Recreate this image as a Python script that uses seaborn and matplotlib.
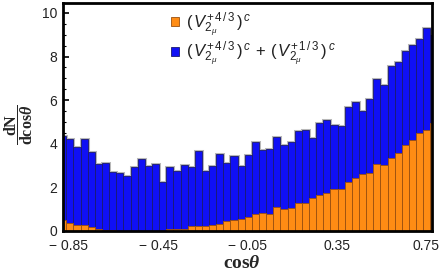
import numpy as np
import pandas as pd
import matplotlib
matplotlib.use("Agg")
import matplotlib.pyplot as plt
import seaborn as sns
from matplotlib.patches import Patch

# ---- data ----
bin_left = -0.8941
bin_width = 0.032
total_vals = [4.37, 4.23, 3.85, 4.22, 3.64, 3.06, 3.12, 2.72, 2.68, 2.54,
              2.95, 3.29, 3.00, 3.06, 2.26, 2.92, 2.75, 3.03, 2.94, 3.67,
              2.75, 2.98, 3.53, 3.12, 3.44, 2.98, 3.47, 4.08, 3.72, 3.75,
              4.30, 3.94, 4.10, 4.57, 4.63, 4.28, 4.97, 5.11, 4.88, 4.83,
              5.69, 5.92, 5.49, 6.06, 6.97, 6.68, 7.57, 7.77, 8.27, 8.53,
              8.81, 9.31, 8.99]
orange_vals = [0.50, 0.35, 0.29, 0.28, 0.20, 0.10, 0.06, 0.05, 0.02, 0.01,
               0.00, 0.00, 0.00, 0.01, 0.01, 0.08, 0.08, 0.08, 0.22, 0.21,
               0.24, 0.29, 0.32, 0.44, 0.50, 0.56, 0.65, 0.79, 0.83, 0.79,
               1.10, 1.01, 1.06, 1.27, 1.30, 1.51, 1.65, 1.76, 1.93, 1.94,
               2.26, 2.45, 2.61, 2.68, 3.07, 3.03, 3.35, 3.58, 3.94, 4.17,
               4.51, 4.63, 4.94]
xtick_vals = [-0.85, -0.45, -0.05, 0.35, 0.75]
xtick_labels = ["\u2212 0.85", "\u2212 0.45", "\u2212 0.05", "0.35", "0.75"]
ytick_vals = [0, 2, 4, 6, 8, 10]
label_orange = r"$(\,V_{2_{\mu}}^{+\,4\,/\,3}\,)^{\,c}$"
label_blue = r"$(\,V_{2_{\mu}}^{+\,4\,/\,3}\,)^{\,c}\,+\,(\,V_{2_{\mu}}^{+\,1\,/\,3}\,)^{\,c}$"

n = len(total_vals)
edges = [bin_left + bin_width * i for i in range(n + 1)]
centers = [(edges[i] + edges[i + 1]) / 2 for i in range(n)]
df = pd.DataFrame({"x": centers, "total": total_vals, "orange": orange_vals})

sns.set_theme(style="white")
plt.rcParams["font.family"] = ["Liberation Sans", "DejaVu Sans"]
plt.rcParams["mathtext.fontset"] = "custom"
plt.rcParams["mathtext.rm"] = "Liberation Sans"
plt.rcParams["mathtext.it"] = "Liberation Sans:italic"
plt.rcParams["mathtext.bf"] = "Liberation Serif:bold"
plt.rcParams["mathtext.bfit"] = "Liberation Serif:bold:italic"

BLUE = "#1010f5"
ORANGE = "#ff8c14"

fig = plt.figure(figsize=(4.42, 2.76), dpi=100)
ax = fig.add_axes([62.5 / 442, 1 - 231 / 276, 369 / 442, (231 - 2.5) / 276])

# gray outline underneath (visible only outside the bars)
sns.histplot(data=df, x="x", weights="total", bins=edges, ax=ax, stat="count",
             color="#b8b8b8", edgecolor="#b8b8b8", linewidth=2.2, alpha=1,
             element="bars", zorder=1)
sns.histplot(data=df, x="x", weights="total", bins=edges, ax=ax, stat="count",
             color=BLUE, edgecolor="#1a1a70", linewidth=0.6, alpha=1,
             element="bars", zorder=2)
sns.histplot(data=df, x="x", weights="orange", bins=edges, ax=ax, stat="count",
             color=ORANGE, edgecolor="#9a5010", linewidth=0.6, alpha=1,
             element="bars", zorder=3)

ax.set_xlim(-0.879, 0.7747)
ax.set_ylim(0, 10.48)
ax.set_xticks(xtick_vals)
ax.set_xticklabels(xtick_labels)
ax.set_yticks(ytick_vals)
ax.set_yticks(np.arange(0, 10.5, 0.5), minor=True)
ax.set_xlabel("")
ax.set_ylabel("")
ax.tick_params(axis="both", which="major", direction="in", length=4, width=1.2,
               color="black", labelsize=10, labelcolor="#222222")
ax.tick_params(axis="x", which="major", pad=5.5)
ax.tick_params(axis="y", which="major", pad=4)
ax.tick_params(axis="y", which="minor", direction="in", length=2, width=0.8,
               color="black", left=True)
ax.tick_params(bottom=True, left=True, top=False, right=False)
for s in ax.spines.values():
    s.set_visible(True)
    s.set_color("black")
    s.set_linewidth(2.0)
    s.set_zorder(5)

handles = [Patch(facecolor=ORANGE, edgecolor="#9a5010", linewidth=0.6),
           Patch(facecolor=BLUE, edgecolor="#1a1a70", linewidth=0.6)]
leg = ax.legend(handles, [label_orange, label_blue], loc="upper left",
                bbox_to_anchor=(0.295, 0.968), frameon=False, fontsize=12,
                handlelength=0.45, handleheight=0.45, handletextpad=0.45,
                labelspacing=0.05, borderpad=0, borderaxespad=0)
for t in leg.get_texts():
    t.set_color("#222222")

fig.text(242 / 442, 1 - 263 / 276, r"$\mathbf{cos}\mathbfit{\theta}$",
         ha="center", va="center", fontsize=14)
fig.text(19 / 442, 1 - 125 / 276, r"$\dfrac{\mathbf{dN}}{\mathbf{dcos}\mathbfit{\theta}}$",
         ha="center", va="center", rotation=90, fontsize=11.5)

fig.savefig("out.png", dpi=100)
